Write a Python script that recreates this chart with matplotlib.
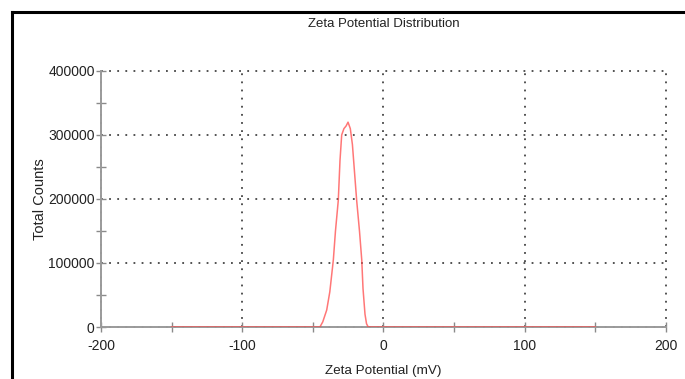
import matplotlib
matplotlib.use("Agg")
import matplotlib.pyplot as plt
from matplotlib.lines import Line2D
from matplotlib.ticker import MultipleLocator

plt.rcParams['font.family'] = ['Liberation Sans', 'DejaVu Sans']
plt.rcParams['axes.unicode_minus'] = False

# Datos
zeta_mv = [-150, -45.0, -43.0, -40.2, -38.0, -35.5, -34.0, -32.0, -30.8,
           -29.6, -28.0, -26.5, -25.1, -23.5, -22.0, -19.0, -17.0, -15.4,
           -14.5, -13.1, -12.0, -10.8, 150]
counts = [0, 0, 8000, 26500, 55000, 105000, 150000, 198000, 260000,
          300000, 310000, 314000, 320000, 310000, 285000, 198000, 150000,
          105000, 60000, 20000, 5000, 0, 0]

x_ticks = [-200, -100, 0, 100, 200]
y_ticks = [0, 100000, 200000, 300000, 400000]

fig = plt.figure(figsize=(6.85, 3.79), dpi=100)
ax = fig.add_axes([0.1474, 0.1372, 0.8249, 0.6755])

ax.plot(zeta_mv, counts, color='#ff4a4a', lw=1.1, alpha=0.75, zorder=4)

ax.set_xlim(-200, 200)
ax.set_ylim(0, 400000)
ax.set_xticks(x_ticks)
ax.set_yticks(y_ticks)
ax.xaxis.set_minor_locator(MultipleLocator(50))
ax.yaxis.set_minor_locator(MultipleLocator(50000))

ax.grid(True, which='major', color='#444444', linestyle=(0, (1, 3.5)), lw=1.3)
for gl in ax.get_xgridlines() + ax.get_ygridlines():
    gl.set_clip_on(False)
for s in ['top', 'right']:
    ax.spines[s].set_visible(False)
for s in ['left', 'bottom']:
    ax.spines[s].set_color('#9a9a9a')
    ax.spines[s].set_linewidth(1.4)
    ax.spines[s].set_zorder(3)

ax.tick_params(which='both', direction='inout', length=7, width=1.0,
               color='#8a8a8a', labelsize=10, labelcolor='#222222')
ax.tick_params(axis='x', pad=5)
ax.tick_params(axis='y', pad=1)

ax.set_title('Zeta Potential Distribution', fontsize=9.5, color='#222222', y=1.14)
ax.set_xlabel('Zeta Potential (mV)', fontsize=9.7, color='#222222', labelpad=9)
ax.set_ylabel('Total Counts', fontsize=10.5, color='#222222', labelpad=1)

# marco negro de la imagen
fig.add_artist(Line2D([0.0168, 0.0168], [0.0, 0.9695], color='black', lw=2.2,
                      transform=fig.transFigure))
fig.add_artist(Line2D([0.0168, 1.0], [0.9695, 0.9695], color='black', lw=2.2,
                      transform=fig.transFigure))

fig.savefig('out.png', dpi=100)
